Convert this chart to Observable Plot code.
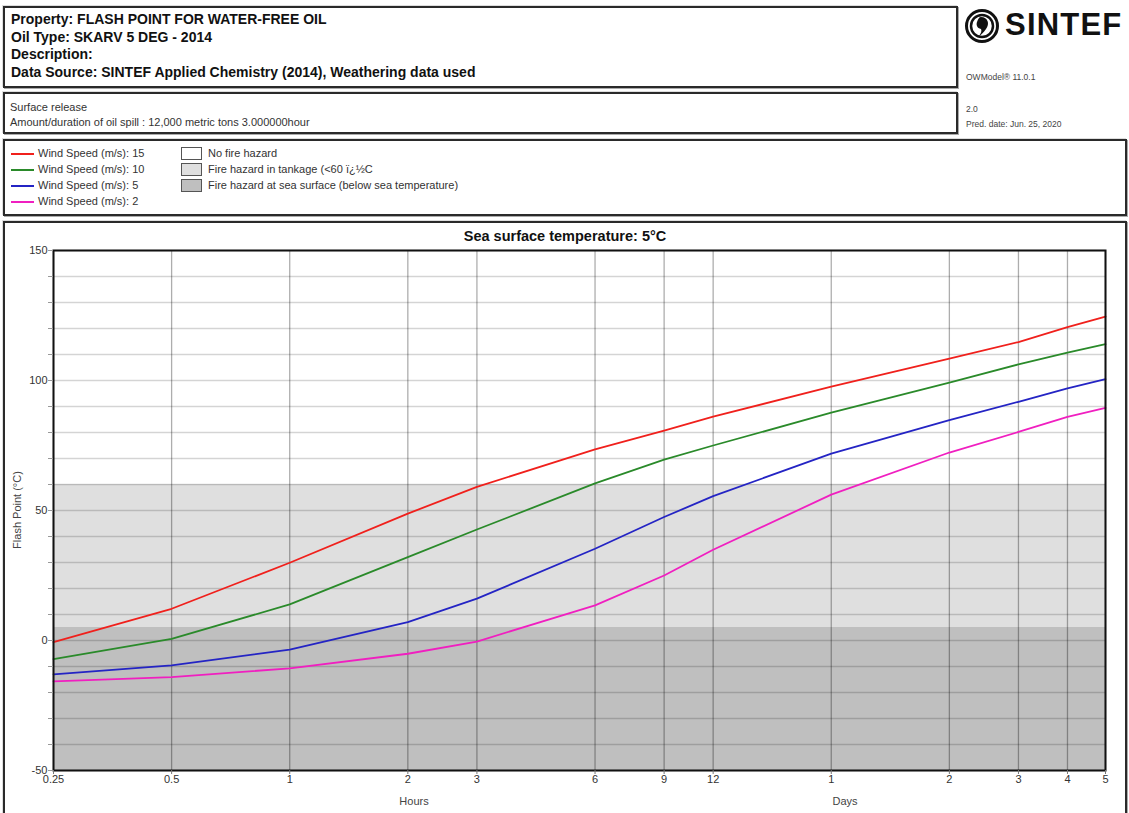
<!DOCTYPE html>
<html><head><meta charset="utf-8">
<script src="https://cdn.jsdelivr.net/npm/d3@7"></script>
<script src="https://cdn.jsdelivr.net/npm/@observablehq/plot@0.6"></script>
<style>
body{margin:0;background:#fff;font-family:"Liberation Sans",Arial,sans-serif;}
#page{position:relative;width:1129px;height:813px;overflow:hidden;}
.box{position:absolute;border:2px solid #2a2a2a;box-sizing:border-box;box-shadow:1px 1px 0 #aaa, -1px -1px 0 #ddd;}
.abs{position:absolute;white-space:nowrap;}
.hdr{font-weight:bold;font-size:14px;color:#111;line-height:17.7px;}
.sm{font-size:11px;color:#333;}
.tiny{font-size:8.5px;color:#444;}
#chart{position:absolute;left:0;top:0;}
</style></head><body><div id="page"></div>
<script>
// ---- data ----
const hours = [0.25, 0.5, 1, 2, 3, 6, 9, 12, 24, 48, 72, 96, 120];
const tickLabels = ["0.25", "0.5", "1", "2", "3", "6", "9", "12", "1", "2", "3", "4", "5"];
const wind15 = [-0.6, 12.2, 29.9, 48.8, 59.1, 73.5, 80.7, 86.1, 97.6, 108.4, 114.8, 120.5, 124.6];
const wind10 = [-7.2, 0.6, 13.9, 32.1, 42.7, 60.4, 69.6, 75.0, 87.6, 99.2, 106.2, 110.7, 114.0];
const wind5 = [-13.0, -9.6, -3.5, 7.1, 16.1, 35.3, 47.5, 55.5, 71.9, 84.8, 91.8, 97.0, 100.5];
const wind2 = [-15.7, -14.1, -10.7, -5.1, -0.4, 13.5, 25.0, 34.9, 56.1, 72.3, 80.2, 86.0, 89.5];
const seriesNames = ["Wind Speed (m/s): 15", "Wind Speed (m/s): 10", "Wind Speed (m/s): 5", "Wind Speed (m/s): 2"];
const seriesColors = ["#f0201c", "#2a8a2a", "#2424c4", "#f01fc0"];
const yLabelTicks = [-50, 0, 50, 100, 150];
const yGridTicks = [-50, -40, -30, -20, -10, 0, 10, 20, 30, 40, 50, 60, 70, 80, 90, 100, 110, 120, 130, 140, 150];
const seaTemp = 5;
const tankLimit = 60;
const yMin = -50, yMax = 150;
const zoneNames = ["No fire hazard", "Fire hazard in tankage (<60 ï¿½C", "Fire hazard at sea surface (below sea temperature)"];
const zoneColors = ["#ffffff", "#dfdfdf", "#bfbfbf"];
const headerLines = ["Property: FLASH POINT FOR WATER-FREE OIL", "Oil Type: SKARV 5 DEG - 2014", "Description:", "Data Source: SINTEF Applied Chemistry (2014), Weathering data used"];
const releaseLines = ["Surface release", "Amount/duration of oil spill : 12,000 metric tons 3.000000hour"];
const chartTitle = "Sea surface temperature: 5°C";

const page = document.getElementById("page");
function el(cls, css, html) {
  const d = document.createElement("div");
  d.className = cls; d.style.cssText = css; if (html != null) d.innerHTML = html;
  page.appendChild(d); return d;
}
function esc(s){return s.replace(/&/g,"&amp;").replace(/</g,"&lt;");}

// boxes
el("box", "left:3px;top:6px;width:955px;height:82px;");
el("box", "left:3px;top:92px;width:955px;height:42px;");
el("box", "left:3px;top:139px;width:1124px;height:77px;");
el("box", "left:3px;top:221px;width:1124px;height:600px;");

// header text
el("abs hdr", "left:11px;top:11px;", headerLines.map(esc).join("<br>"));
el("abs sm", "left:10px;top:100px;line-height:14.5px;", releaseLines.map(esc).join("<br>"));

// logo
el("abs", "left:964px;top:8px;", `<svg width="36" height="36" viewBox="0 0 36 36">
<circle cx="18" cy="18" r="15.5" fill="none" stroke="#111" stroke-width="3"/>
<circle cx="18" cy="18" r="11" fill="none" stroke="#111" stroke-width="2.5"/>
<path d="M17 9 C 24 9, 26 16, 22 21 C 20 24, 17 27, 15 28 C 17 25, 18 23, 17 21 C 13 20, 12 17, 13 14 C 14 11, 15 9, 17 9 Z" fill="#111"/></svg>`);
el("abs", "left:1005px;top:7px;font-weight:bold;font-size:31px;letter-spacing:1.2px;color:#111;", "SINTEF");
el("abs tiny", "left:966px;top:72px;", "OWModel® 11.0.1");
el("abs tiny", "left:966px;top:102px;line-height:15px;", "2.0<br>Pred. date: Jun. 25, 2020");

// legend
seriesNames.forEach((n, i) => {
  const y = 148 + i * 16;
  el("abs", `left:11px;top:${y + 5}px;width:23px;height:2px;background:${seriesColors[i]};`);
  el("abs sm", `left:38px;top:${y - 1}px;`, esc(n));
});
zoneNames.forEach((n, i) => {
  const y = 148 + i * 16;
  el("abs", `left:181px;top:${y - 1}px;width:21px;height:13px;box-sizing:border-box;border:1px solid #555;background:${zoneColors[i]};`);
  el("abs sm", `left:208px;top:${y - 1}px;`, esc(n));
});

// titles / axis labels
el("abs", "left:565px;top:228px;transform:translateX(-50%);font-weight:bold;font-size:14.5px;color:#111;", chartTitle);
el("abs sm", "left:17px;top:510px;transform:translate(-50%,-50%) rotate(-90deg);color:#444;", "Flash Point (°C)");
el("abs sm", "left:414px;top:795px;transform:translateX(-50%);color:#444;", "Hours");
el("abs sm", "left:845px;top:795px;transform:translateX(-50%);color:#444;", "Days");

// table for lines
const allSeries = [wind15, wind10, wind5, wind2];
const rows = [];
allSeries.forEach((vals, si) => vals.forEach((v, i) => rows.push({h: hours[i], v, s: seriesNames[si]})));
const xTicks = hours.map((h, i) => ({h, label: tickLabels[i]}));

const xLo = hours[0], xHi = hours[hours.length - 1];
const chart = Plot.plot({
  width: 1129, height: 813,
  marginLeft: 53, marginRight: 24, marginTop: 250, marginBottom: 43,
  style: {background: "transparent", fontFamily: "Liberation Sans, Arial, sans-serif", fontSize: "11px", color: "#333"},
  x: {type: "log", domain: [xLo, xHi], axis: null},
  y: {domain: [yMin, yMax]},
  color: {domain: seriesNames, range: seriesColors},
  marks: [
    Plot.rect([{lo: yMin, hi: seaTemp}], {x1: () => xLo, x2: () => xHi, y1: "lo", y2: "hi", fill: zoneColors[2]}),
    Plot.rect([{lo: seaTemp, hi: tankLimit}], {x1: () => xLo, x2: () => xHi, y1: "lo", y2: "hi", fill: zoneColors[1]}),
    Plot.ruleY(yGridTicks, {stroke: "#000", strokeOpacity: 0.17, strokeWidth: 1.3}),
    Plot.ruleX(hours, {stroke: "#000", strokeOpacity: 0.32, strokeWidth: 1.3}),
    Plot.line(rows, {x: "h", y: "v", z: "s", stroke: "s", strokeWidth: 1.8}),
    Plot.frame({stroke: "#111", strokeWidth: 2}),
    Plot.axisY(yGridTicks, {tickSize: 5, tickPadding: 1, label: null, stroke: "#999",
      tickFormat: d => yLabelTicks.includes(d) ? String(d) : "", fill: "#333"}),
    Plot.axisX(hours, {tickSize: 4, tickPadding: 2, label: null, stroke: "#777", tickFormat: () => ""}),
    Plot.text(xTicks, {x: "h", text: "label", frameAnchor: "bottom", dy: 12, fill: "#333", fontSize: 11})
  ]
});
chart.id = "chart";
page.appendChild(chart);
</script></body></html>
